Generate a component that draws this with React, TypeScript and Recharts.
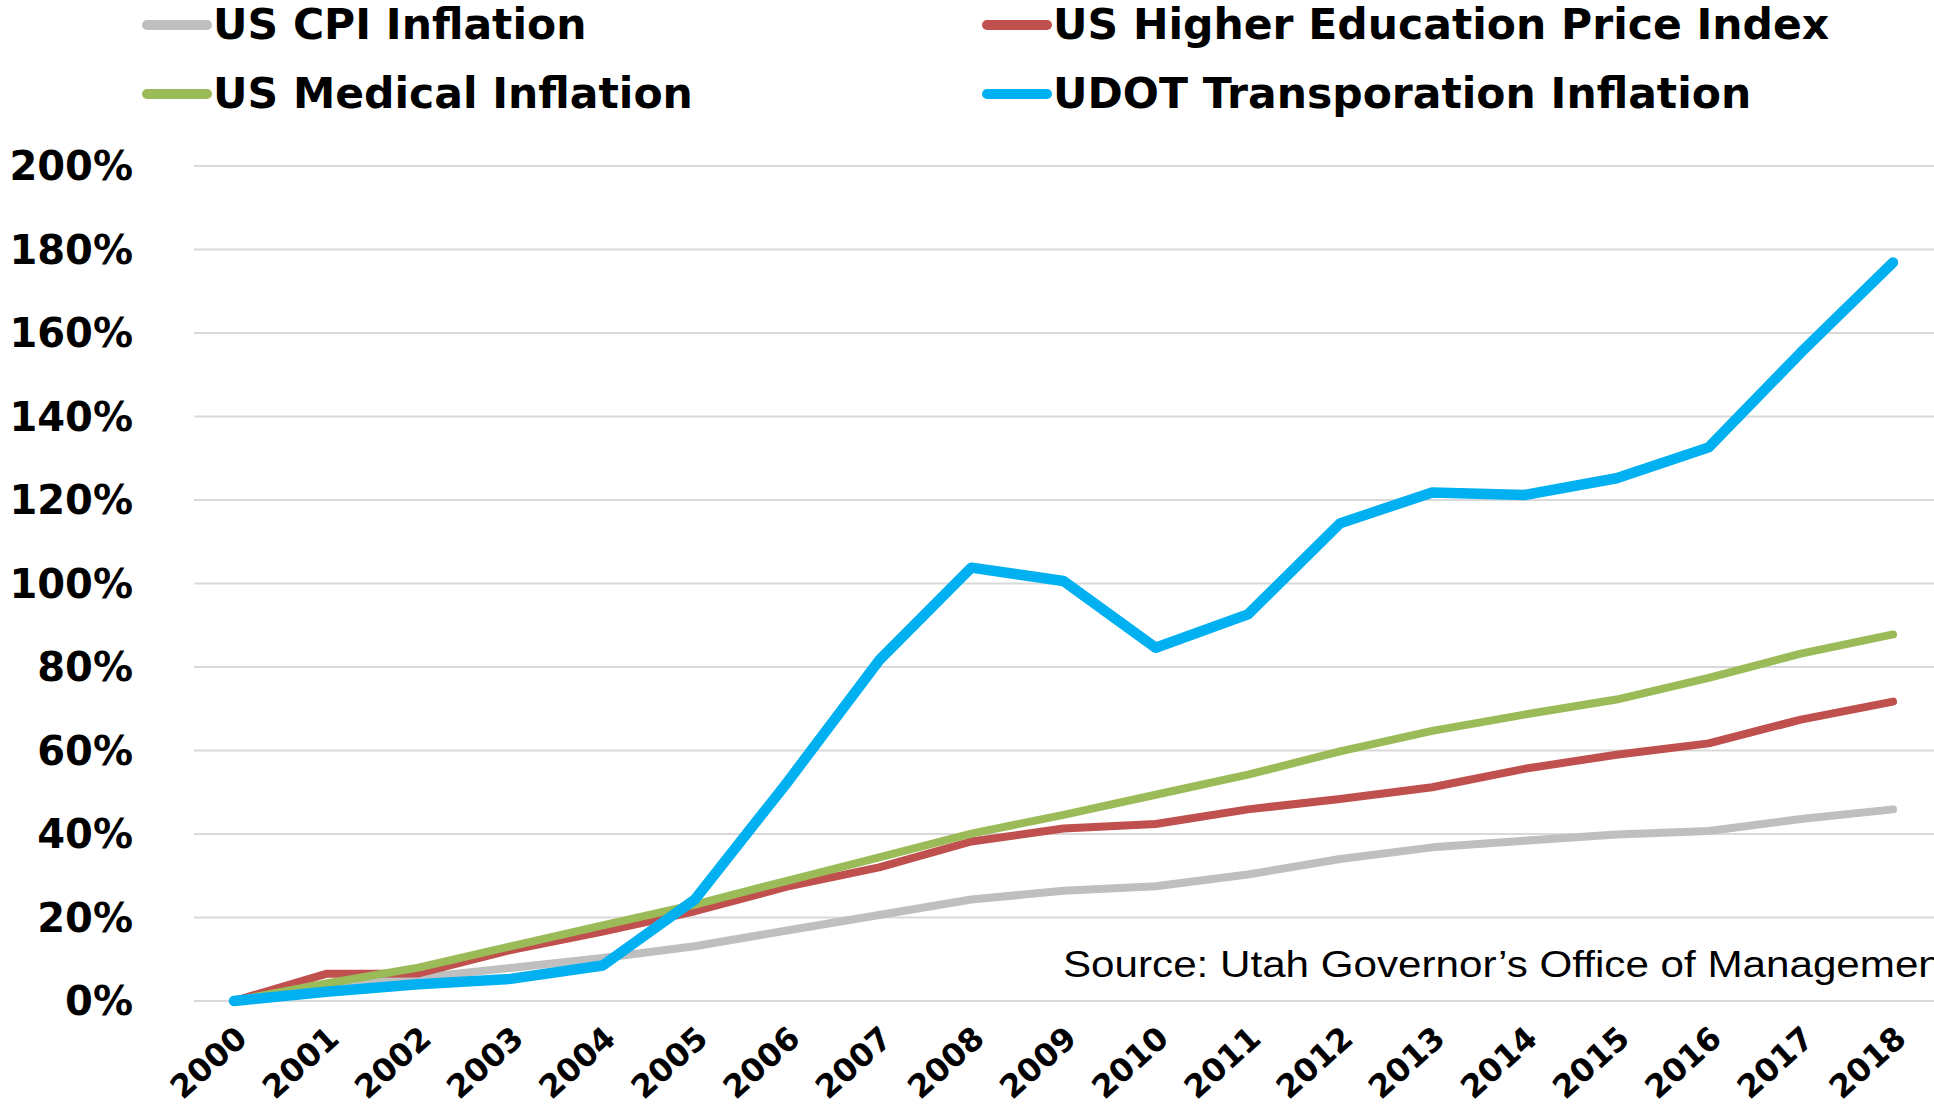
import React from 'react';
import { LineChart, Line, XAxis, YAxis, CartesianGrid, Legend } from 'recharts';

const years = ['2000', '2001', '2002', '2003', '2004', '2005', '2006', '2007', '2008', '2009', '2010', '2011', '2012', '2013', '2014', '2015', '2016', '2017', '2018'];
const cpiInflation = [0, 3.6, 5.6, 7.9, 10.3, 13.1, 16.9, 20.6, 24.3, 26.4, 27.5, 30.3, 34.0, 36.8, 38.4, 39.9, 40.7, 43.6, 45.9];
const higherEdIndex = [0, 6.5, 6.6, 12.2, 16.6, 21.5, 27.4, 32.0, 38.2, 41.3, 42.4, 45.9, 48.4, 51.2, 55.6, 59.0, 61.7, 67.4, 71.7];
const medicalInflation = [0, 4.2, 8.0, 13.1, 18.1, 23.1, 28.8, 34.4, 40.1, 44.6, 49.4, 54.2, 59.8, 64.7, 68.6, 72.2, 77.4, 83.2, 87.8];
const udotInflation = [0, 2.2, 4.0, 5.3, 8.5, 24.3, 52.3, 81.6, 103.8, 100.6, 84.6, 92.6, 114.4, 121.8, 121.2, 125.2, 132.6, 155.3, 176.9];
const yTicks = [0, 20, 40, 60, 80, 100, 120, 140, 160, 180, 200];
const sourceText = 'Source: Utah Governor\u2019s Office of Management and Budget';

const series = [
  { key: 'cpi', name: 'US CPI Inflation', color: '#BFBFBF', width: 8 },
  { key: 'higherEd', name: 'US Higher Education Price Index', color: '#C0504D', width: 8 },
  { key: 'medical', name: 'US Medical Inflation', color: '#9BBB59', width: 8 },
  { key: 'udot', name: 'UDOT Transporation Inflation', color: '#00B0F0', width: 10.5 },
];

const data = years.map((year, i) => ({
  year,
  cpi: cpiInflation[i],
  higherEd: higherEdIndex[i],
  medical: medicalInflation[i],
  udot: udotInflation[i],
}));

const BOLD_FONT = '"DejaVu Sans", Verdana, sans-serif';

const XTick = (props: any) => {
  const { x, y, payload } = props;
  return (
    <g transform={`translate(${x + 15},${y + 38})`}>
      <text
        textAnchor="end"
        transform="rotate(-42)"
        fontSize={32}
        fontWeight={700}
        fontFamily={BOLD_FONT}
        fill="#000"
      >
        {payload.value}
      </text>
    </g>
  );
};

const LegendContent = () => (
  <div style={{ position: 'relative', width: 1934, height: 130 }}>
    {series.map((s, i) => {
      const col = i % 2;
      const row = Math.floor(i / 2);
      return (
        <div
          key={s.key}
          style={{
            position: 'absolute',
            left: 142 + col * 840,
            top: 25 + row * 69 - 35,
            height: 70,
            display: 'flex',
            alignItems: 'center',
            whiteSpace: 'nowrap',
          }}
        >
          <div style={{ width: 70, height: 10, borderRadius: 5, background: s.color }} />
          <span
            style={{
              marginLeft: 1,
              fontFamily: BOLD_FONT,
              fontWeight: 700,
              fontSize: 42.5,
              lineHeight: 1,
              color: '#000',
            }}
          >
            {s.name}
          </span>
        </div>
      );
    })}
  </div>
);

export default function App() {
  return (
    <div
      style={{
        position: 'fixed',
        left: 0,
        top: 0,
        width: 1934,
        height: 1109,
        overflow: 'hidden',
        background: '#fff',
      }}
    >
      <LineChart
        width={1939}
        height={1109}
        data={data}
        margin={{ top: 166, right: 0, bottom: 8, left: 0 }}
      >
        <CartesianGrid vertical={false} stroke="#D9D9D9" strokeWidth={2} />
        <XAxis
          dataKey="year"
          interval={0}
          padding={{ left: 40, right: 46 }}
          tickLine={false}
          axisLine={false}
          tickSize={0}
          height={100}
          tick={<XTick />}
        />
        <YAxis
          domain={[0, 200]}
          ticks={yTicks}
          interval={0}
          width={194}
          tickLine={false}
          axisLine={false}
          tickSize={0}
          tickMargin={61}
          tickFormatter={(v: number) => `${v}%`}
          tick={{ fill: '#000', fontSize: 40, fontWeight: 700, fontFamily: BOLD_FONT }}
        />
        <Legend
          layout="horizontal"
          verticalAlign="middle"
          align="center"
          wrapperStyle={{ position: 'absolute', top: 0, left: 0, width: 1934, height: 130 }}
          content={<LegendContent />}
        />
        {series.map((s) => (
          <Line
            key={s.key}
            type="linear"
            dataKey={s.key}
            name={s.name}
            stroke={s.color}
            strokeWidth={s.width}
            strokeLinecap="round"
            strokeLinejoin="round"
            dot={false}
            activeDot={false}
            isAnimationActive={false}
          />
        ))}
      </LineChart>
      <svg
        width={1934}
        height={1109}
        style={{ position: 'absolute', left: 0, top: 0, pointerEvents: 'none' }}
      >
        <text
          transform="translate(1063,977) scale(1.14,1)"
          fontFamily='"Liberation Sans", Arial, sans-serif'
          fontSize={37}
          fill="#000"
        >
          {sourceText}
        </text>
      </svg>
    </div>
  );
}
